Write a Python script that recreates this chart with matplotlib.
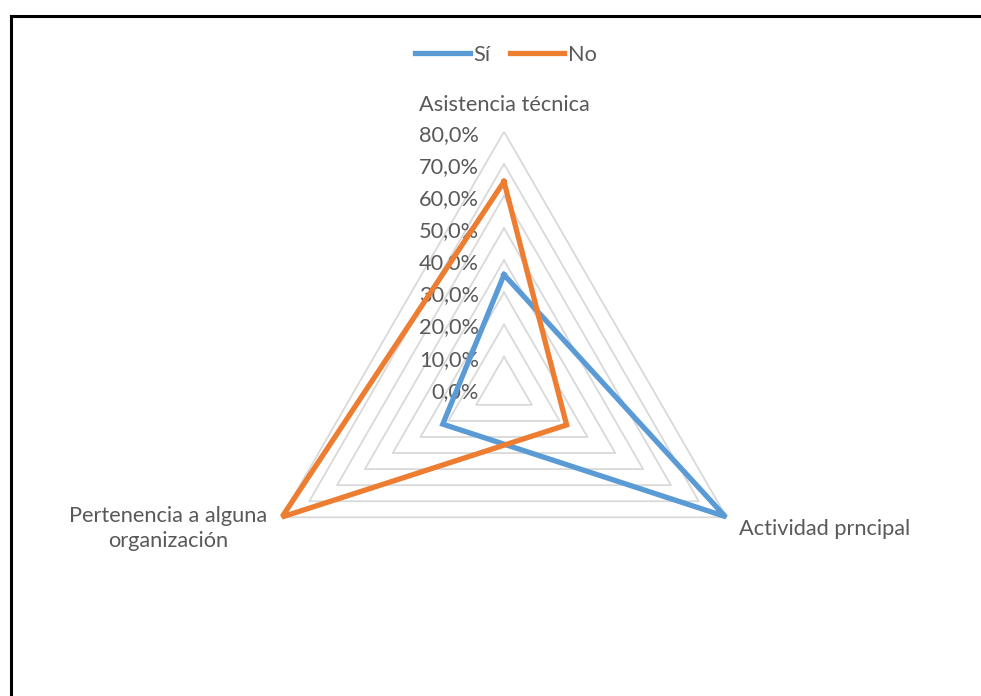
import matplotlib
matplotlib.use("Agg")
import matplotlib.pyplot as plt
import numpy as np
from matplotlib.lines import Line2D

categories = ["Asistencia técnica", "Actividad prncipal", "Pertenencia a alguna\norganización"]
si_values = [35.5, 79.5, 22.0]
no_values = [64.5, 22.5, 79.8]
levels = [0, 10, 20, 30, 40, 50, 60, 70, 80]
level_labels = ["%.1f%%" % v for v in levels]
level_labels = [s.replace(".", ",") for s in level_labels]

blue = "#5B9BD5"
orange = "#ED7D31"
grey_txt = "#595959"
grid_col = "#D9D9D9"
fs = 15.7

plt.rcParams['font.family'] = ['Lato', 'DejaVu Sans']

W, H = 981, 696
fig = plt.figure(figsize=(W / 100, H / 100), dpi=100)

# polar area: centre (504, 389) px, radius 257 px
cx, cy, rad = 504, 388.8, 257
ax = fig.add_axes([(cx - rad) / W, (H - cy - rad) / H, 2 * rad / W, 2 * rad / H], polar=True)
ax.set_theta_offset(np.pi / 2)
ax.set_theta_direction(-1)
ax.set_ylim(0, 80)
ax.grid(False)
ax.spines['polar'].set_visible(False)
ax.set_xticks([])
ax.set_yticks([])
ax.patch.set_alpha(0)

angles = np.arange(len(categories)) * 2 * np.pi / len(categories)
closed = np.append(angles, angles[0])

# ring triangles
for lv in levels[1:]:
    ax.plot(closed, [lv] * (len(categories) + 1), color=grid_col, lw=1.3, zorder=1)

# radial tick labels along the top axis
for lv, lab in zip(levels, level_labels):
    ax.annotate(lab, xy=(0, lv), xytext=(-25, -3), textcoords="offset pixels",
                ha="right", va="center", fontsize=fs, color=grey_txt)

ax.plot(closed, si_values + si_values[:1], color=blue, lw=3.8, solid_joinstyle="miter", zorder=3)
ax.plot(closed, no_values + no_values[:1], color=orange, lw=3.8, solid_joinstyle="miter", zorder=4)

# category labels
offsets = [(0, 27), (12, -12), (-113, -11)]
aligns = ["center", "left", "center"]
for ang, cat, off, ha in zip(angles, categories, offsets, aligns):
    ax.annotate(cat, xy=(ang, 80), xytext=off, textcoords="offset pixels",
                ha=ha, va="center", multialignment="center",
                fontsize=fs, color=grey_txt, linespacing=1.3)

handles = [Line2D([], [], color=blue, lw=3.8), Line2D([], [], color=orange, lw=3.8)]
fig.legend(handles, ["Sí", "No"], loc="center", bbox_to_anchor=(506 / W, 1 - 55 / H),
           ncol=2, frameon=False, fontsize=fs, handlelength=2.5, handletextpad=0.15,
           columnspacing=0.9, labelcolor=grey_txt)

# chart border (top and left edges visible)
fig.add_artist(Line2D([11 / W, 11 / W], [0, 1 - 16 / H], color="black", lw=2.2, transform=fig.transFigure))
fig.add_artist(Line2D([11 / W, 1], [1 - 16 / H, 1 - 16 / H], color="black", lw=2.2, transform=fig.transFigure))

fig.savefig("out.png", dpi=100)
